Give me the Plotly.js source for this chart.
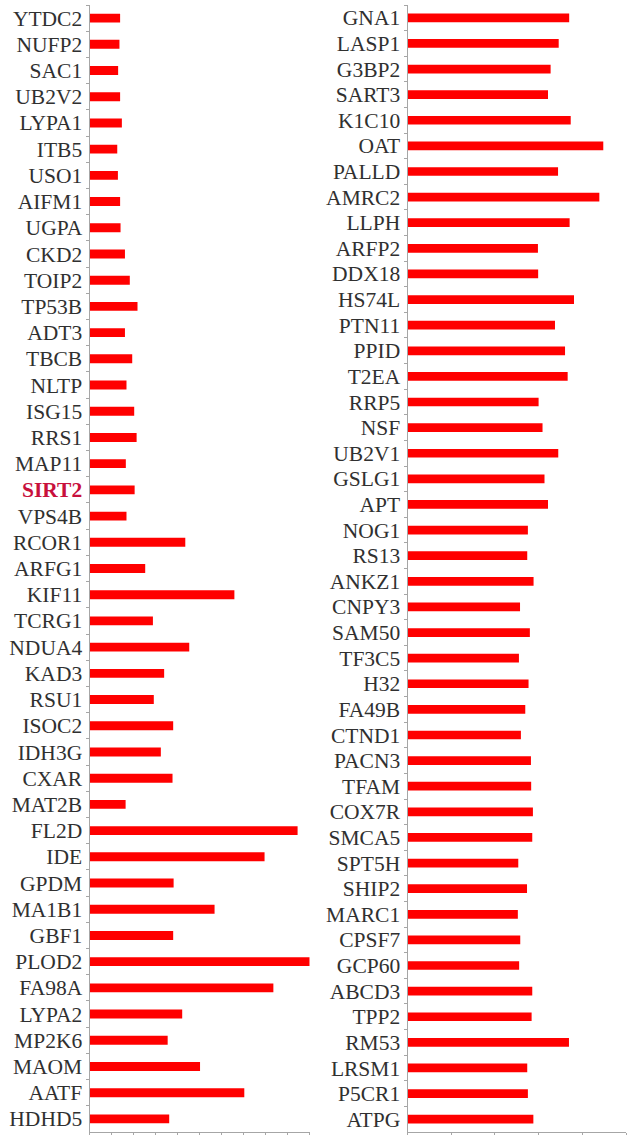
<!DOCTYPE html>
<html>
<head>
<meta charset="utf-8">
<script src="https://cdn.plot.ly/plotly-3.0.1.min.js"></script>
<style>
html,body{margin:0;padding:0;background:#fff;}
#chart{width:632px;height:1135px;}
</style>
</head>
<body>
<div id="chart"></div>
<script>
// Left panel
const leftCategories = ["YTDC2","NUFP2","SAC1","UB2V2","LYPA1","ITB5","USO1","AIFM1","UGPA","CKD2",
  "TOIP2","TP53B","ADT3","TBCB","NLTP","ISG15","RRS1","MAP11","SIRT2","VPS4B",
  "RCOR1","ARFG1","KIF11","TCRG1","NDUA4","KAD3","RSU1","ISOC2","IDH3G","CXAR",
  "MAT2B","FL2D","IDE","GPDM","MA1B1","GBF1","PLOD2","FA98A","LYPA2","MP2K6",
  "MAOM","AATF","HDHD5"];
const leftValues = [1.39,1.36,1.30,1.39,1.47,1.26,1.29,1.39,1.41,1.61,
  1.83,2.18,1.61,1.94,1.68,2.03,2.14,1.65,2.05,1.68,
  4.35,2.53,6.58,2.88,4.53,3.39,2.92,3.80,3.24,3.77,
  1.64,9.45,7.95,3.82,5.68,3.80,10.0,8.35,4.21,3.55,
  5.02,7.03,3.62];

// Right panel
const rightCategories = ["GNA1","LASP1","G3BP2","SART3","K1C10","OAT","PALLD","AMRC2","LLPH","ARFP2",
  "DDX18","HS74L","PTN11","PPID","T2EA","RRP5","NSF","UB2V1","GSLG1","APT",
  "NOG1","RS13","ANKZ1","CNPY3","SAM50","TF3C5","H32","FA49B","CTND1","PACN3",
  "TFAM","COX7R","SMCA5","SPT5H","SHIP2","MARC1","CPSF7","GCP60","ABCD3","TPP2",
  "RM53","LRSM1","P5CR1","ATPG"];
const rightValues = [7.40,6.92,6.55,6.43,7.47,8.96,6.89,8.78,7.42,5.97,
  5.98,7.62,6.75,7.21,7.33,6.00,6.18,6.90,6.27,6.43,
  5.51,5.48,5.77,5.15,5.60,5.10,5.54,5.39,5.19,5.65,
  5.66,5.74,5.71,5.07,5.47,5.05,5.16,5.11,5.71,5.68,
  7.39,5.48,5.51,5.76];

const highlighted = ["SIRT2"];

const W = 632, H = 1135;
function label(c){
  return highlighted.includes(c) ? "<span style='color:#c8103c'><b>" + c + "</b></span>" : c;
}

const traces = [
  {type:"bar", orientation:"h", x:leftValues, y:leftCategories.map(label),
   xaxis:"x", yaxis:"y", marker:{color:"#ff0000", line:{width:0}}, hoverinfo:"x+y"},
  {type:"bar", orientation:"h", x:rightValues, y:rightCategories.map(label),
   xaxis:"x2", yaxis:"y2", marker:{color:"#ff0000", line:{width:0}}, hoverinfo:"x+y"}
];

const font = {family:"Liberation Serif, Times New Roman, serif", size:21.5, color:"#303030"};
const axisColor = "#a6a6a6";

function yax(anchor){
  return {anchor:anchor, type:"category", autorange:"reversed", showline:true, linecolor:axisColor,
    linewidth:1, ticks:"outside", ticklen:3, tickcolor:axisColor, tickson:"boundaries",
    tickmode:"linear", tick0:0, dtick:1,
    showgrid:false, zeroline:false, tickfont:font, ticklabelstandoff:2, domain:[0,1], fixedrange:true};
}
function xax(anchor, d0, d1, dtick){
  return {anchor:anchor, domain:[d0/W, d1/W], range:[0,10], dtick:dtick, tick0:0, showline:true,
    linecolor:axisColor, linewidth:1, ticks:"outside", ticklen:5, tickcolor:axisColor,
    showticklabels:false, showgrid:false, zeroline:false, fixedrange:true};
}

const layout = {
  width:W, height:H,
  margin:{l:0, r:0, t:5, b:3, pad:0},
  paper_bgcolor:"#ffffff", plot_bgcolor:"#ffffff",
  showlegend:false, bargap:0.66,
  font:font,
  xaxis: xax("y", 89.5, 309.7, 1),
  yaxis: yax("x"),
  xaxis2: xax("y2", 407.5, 626, 2),
  yaxis2: yax("x2")
};

Plotly.newPlot("chart", traces, layout, {displayModeBar:false, staticPlot:true});
</script>
</body>
</html>
